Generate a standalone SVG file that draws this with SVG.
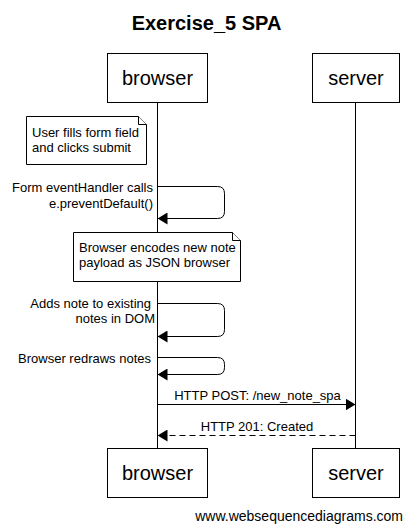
<svg xmlns="http://www.w3.org/2000/svg" width="413" height="531" viewBox="0 0 413 531">
<style>
text{font-family:"Liberation Sans",Arial,sans-serif;fill:#000}
.title{font-size:20px;font-weight:bold}
.actor{font-size:20px}
.lbl{font-size:13px}
.foot{font-size:14px}
.box{fill:#fff;stroke:#000;stroke-width:1}
.life{stroke:#000;stroke-width:1}
.msg{fill:none;stroke:#000;stroke-width:1}
.dash{stroke-dasharray:6,4}
.note{fill:#fff;stroke:#000;stroke-width:1}
</style>
<defs>
<marker id="ah" markerWidth="10" markerHeight="12" refX="10" refY="6" orient="auto" markerUnits="userSpaceOnUse">
<path d="M0,0 L10,6 L0,12 Z" fill="#000"/>
</marker>
</defs>
<rect width="413" height="531" fill="#fff"/>
<text class="title" x="206.5" y="30" text-anchor="middle">Exercise_5 SPA</text>
<g id="lifelines">
<line class="life" x1="157.5" y1="102" x2="157.5" y2="448"/>
<line class="life" x1="355.5" y1="102" x2="355.5" y2="448"/>
</g>
<g id="browser-top"><rect class="box" x="107.5" y="53.5" width="100" height="49"/><text class="actor" x="157.5" y="85" text-anchor="middle">browser</text></g>
<g id="server-top"><rect class="box" x="312.5" y="53.5" width="87" height="49"/><text class="actor" x="356" y="85" text-anchor="middle">server</text></g>
<g id="browser-bottom"><rect class="box" x="107.5" y="448.5" width="100" height="49"/><text class="actor" x="157.5" y="480" text-anchor="middle">browser</text></g>
<g id="server-bottom"><rect class="box" x="312.5" y="448.5" width="87" height="49"/><text class="actor" x="356" y="480" text-anchor="middle">server</text></g>
<g id="note1">
<path class="note" d="M26.5,116.5 H138.5 L146.5,124.5 V164.5 H26.5 Z"/>
<path class="note" d="M138.5,116.5 V124.5 H146.5"/>
<text class="lbl" x="32" y="137">User fills form field</text>
<text class="lbl" x="32" y="152">and clicks submit</text>
</g>
<g id="note2">
<path class="note" d="M73.5,232.5 H232.5 L240.5,240.5 V281.5 H73.5 Z"/>
<path class="note" d="M232.5,232.5 V240.5 H240.5"/>
<text class="lbl" x="79" y="252">Browser encodes new note</text>
<text class="lbl" x="79" y="267">payload as JSON browser</text>
</g>
<g id="connectors">
<path class="msg" d="M157.5,186.5 H217.5 Q224.5,186.5 224.5,193.5 V211.5 Q224.5,218.5 217.5,218.5 H157.5" marker-end="url(#ah)"/>
<text class="lbl" x="153" y="192" text-anchor="end">Form eventHandler calls</text>
<text class="lbl" x="153" y="208" text-anchor="end">e.preventDefault()</text>
<path class="msg" d="M157.5,303.5 H217.5 Q224.5,303.5 224.5,310.5 V329.5 Q224.5,336.5 217.5,336.5 H157.5" marker-end="url(#ah)"/>
<text class="lbl" x="151" y="308" text-anchor="end">Adds note to existing</text>
<text class="lbl" x="155" y="323" text-anchor="end">notes in DOM</text>
<path class="msg" d="M157.5,357.5 H217.5 Q224.5,357.5 224.5,364.5 V367.5 Q224.5,374.5 217.5,374.5 H157.5" marker-end="url(#ah)"/>
<text class="lbl" x="151" y="363" text-anchor="end">Browser redraws notes</text>
<line class="msg" x1="157.5" y1="404.5" x2="355.5" y2="404.5" marker-end="url(#ah)"/>
<text class="lbl" x="257.5" y="400" text-anchor="middle">HTTP POST: /new_note_spa</text>
<line class="msg dash" x1="355.5" y1="435.5" x2="157.5" y2="435.5" marker-end="url(#ah)"/>
<text class="lbl" x="257" y="431" text-anchor="middle">HTTP 201: Created</text>
</g>
<text class="foot" x="403" y="521" text-anchor="end">www.websequencediagrams.com</text>
</svg>
